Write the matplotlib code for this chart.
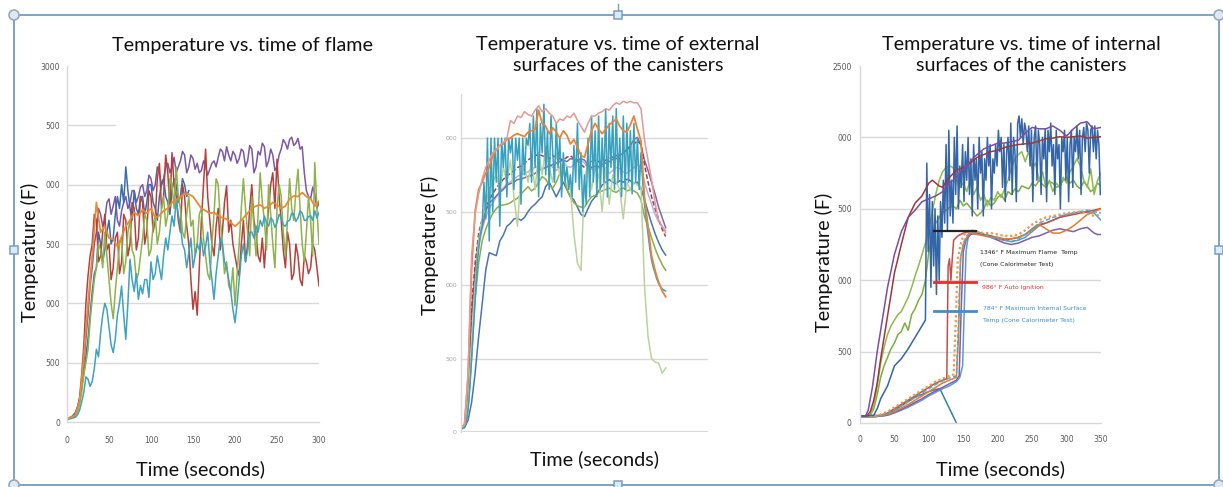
import numpy as np
import matplotlib
matplotlib.use("Agg")
import matplotlib.pyplot as plt
from matplotlib.patches import Rectangle, Circle

plt.rcParams['font.family'] = ['Lato', 'DejaVu Sans']

# ---------------- panel 1: flame temperature ----------------
t1 = list(np.arange(0, 300.1, 2.5))
flame_purple = [30, 35, 40, 50, 70, 110, 180, 330, 500, 700,
                900, 1150, 1300, 1500, 1600, 1800, 1750, 1650, 1700, 1850,
                1880, 1750, 1820, 1900, 1700, 1650, 1780, 1850, 1900, 1800,
                1850, 1950, 1950, 1850, 1900, 1980, 2000, 1900, 1950, 2080,
                2050, 1950, 2000, 2150, 2100, 2000, 2050, 2150, 2180, 2100,
                2150, 2230, 2100, 2150, 2200, 2280, 2250, 2100, 2150, 2250,
                2220, 2130, 2180, 2100, 2120, 2200, 2150, 2080, 2130, 2180,
                2200, 2150, 2230, 2300, 2280, 2200, 2320, 2250, 2200, 2280,
                2250, 2180, 2220, 2300, 2280, 2150, 2200, 2330, 2300, 2100,
                2150, 2280, 2250, 2350, 2320, 2150, 2200, 2300, 2250, 2120,
                2150, 2250, 2300, 2380, 2350, 2300, 2380, 2400, 2330, 2350,
                2390, 2300, 2320, 2100, 1950, 1900, 1880, 1980, 1920, 1800,
                1850]
t1_blue = list(np.arange(0, 145.1, 2.5))
flame_blue = [30, 35, 40, 60, 80, 130, 200, 300, 400, 550,
              700, 900, 1100, 1250, 1300, 1600, 1500, 1350, 1450, 1600,
              1700, 1500, 1550, 1750, 1900, 1800, 2000, 1850, 2150, 1950,
              1800, 1700, 1950, 1800, 1750, 1900, 1900, 1750, 1850, 2000,
              2000, 1850, 1800, 1700, 1900, 2000, 2050, 1900, 1850, 1750,
              1950, 2050, 2000, 1850, 1900, 2050, 2000, 1900, 1950]
flame_red = [30, 35, 40, 50, 60, 100, 200, 400, 640, 1000,
             1230, 1400, 1500, 1750, 1700, 1350, 1400, 1600, 1750, 1450,
             1500, 1200, 1300, 1550, 1600, 1250, 1350, 1750, 1700, 1400,
             1500, 1850, 1800, 1450, 1550, 1900, 1850, 1500, 1600, 1950,
             1900, 1600, 1700, 2050, 2180, 1800, 1900, 2250, 2100, 1800,
             2270, 2000, 1900, 1700, 1600, 2000, 1900, 1650, 1500, 1200,
             950, 1100, 900, 1300, 1700, 2000, 2300, 1900, 1700, 1500,
             1400, 1650, 1800, 1450, 1600, 1850, 1990, 1600, 1700, 1500,
             1400, 1300, 1230, 1500, 1700, 1350, 1500, 1800, 2000, 1700,
             1600, 1400, 1350, 1550, 1300, 1600, 1800, 2000, 2100, 1800,
             2214, 1900, 1700, 1450, 1300, 1600, 1500, 1200, 1250, 1500,
             1400, 1200, 1150, 1400, 1350, 1250, 1300, 1500, 1450, 1300,
             1146]
t1_orange = list(range(0, 301, 5))
flame_orange = [30, 40, 60, 180, 550, 1000, 1400, 1850, 1600, 1650, 1550, 1540, 1480, 1560, 1650, 1700,
                1765, 1740, 1790, 1760, 1800, 1720, 1740, 1780, 1800, 1850, 1870, 1900, 1920, 1920,
                1900, 1850, 1800, 1780, 1760, 1765, 1740, 1720, 1710, 1680, 1650, 1680, 1720, 1760,
                1800, 1820, 1830, 1800, 1820, 1850, 1830, 1800, 1820, 1880, 1905, 1900, 1933, 1900,
                1880, 1820, 1860]
flame_green = [25, 30, 35, 40, 50, 90, 150, 250, 400, 500,
               610, 850, 1030, 1200, 1300, 1500, 1450, 1300, 1600, 1400,
               1200, 1000, 870, 1100, 1300, 1500, 1550, 1250, 1350, 1600,
               1700, 1450, 1400, 1200, 1250, 1400, 1550, 1750, 1700, 1400,
               1450, 1650, 1750, 1500, 1600, 1800, 1900, 1650, 1750, 2050,
               2000, 1800, 2150, 1900, 1800, 1600, 1550, 1750, 1900, 1650,
               1700, 1400, 1500, 1750, 1800, 1550, 1400, 1250, 1200, 1500,
               1750, 2050, 2000, 1700, 1500, 1250, 1350, 1150, 1100, 1300,
               980, 1250, 1500, 1800, 2050, 1800, 1600, 1400, 1900, 1650,
               1400, 1750, 2100, 1850, 1700, 1450, 2000, 1750, 1500, 1300,
               1800, 2000, 1900, 1600, 1400, 1700, 2050, 1800, 1700, 1950,
               2130, 1800, 1500, 1350, 1600, 1900, 1700, 1400, 2186, 1800,
               1500]
flame_cyan = [20, 25, 30, 35, 40, 60, 100, 170, 250, 380,
              360, 300, 340, 450, 613, 550, 750, 900, 1000, 950,
              800, 650, 585, 700, 900, 1000, 1146, 900, 697, 1000,
              1371, 1200, 1100, 1250, 1034, 1150, 1080, 1200, 1200, 1050,
              1350, 1200, 1250, 1400, 1300, 1200, 1400, 1550, 1450, 1600,
              1736, 1650, 1877, 1750, 1650, 1500, 1450, 1300, 1427, 1550,
              1300, 1400, 1500, 1450, 1550, 1400, 1480, 1600, 1350, 1200,
              1034, 1250, 1400, 1550, 1500, 1350, 1300, 1200, 1100, 950,
              837, 1000, 1200, 1400, 1500, 1350, 1450, 1600, 1600, 1550,
              1652, 1600, 1700, 1650, 1736, 1680, 1650, 1720, 1700, 1640,
              1680, 1750, 1720, 1660, 1650, 1690, 1700, 1760, 1750, 1690,
              1720, 1780, 1760, 1700, 1700, 1730, 1740, 1700, 1780, 1720,
              1765]
p1_yticks = [0, 500, 1000, 1500, 2000, 2500, 3000]
p1_ylabels = ["0", "500", "000", "500", "000", "500", "3000"]
p1_xticks = [0, 50, 100, 150, 200, 250, 300]

# ---------------- panel 2: external surfaces ----------------
t2 = list(range(0, 291, 5))
ext_pink = [30, 50, 400, 1200, 1480, 1620, 1720, 1800, 1850, 1900, 1920, 1950, 1970, 2000, 2120, 2100,
            2150, 2140, 2180, 2160, 2150, 2190, 2220, 2180, 2200, 2170, 2150, 2100, 2130, 2120, 2150,
            2140, 2170, 2120, 2080, 2040, 2100, 2150, 2150, 2170, 2180, 2200, 2190, 2220, 2240, 2230,
            2250, 2240, 2250, 2240, 2240, 2200, 1990, 1850, 1718, 1560, 1440, 1400, 1357]
ext_orange = [30, 50, 380, 1100, 1500, 1650, 1700, 1760, 1800, 1880, 1920, 1950, 1960, 1990, 2000,
              2020, 2030, 2020, 2010, 2040, 2050, 2060, 2190, 2100, 2080, 2030, 2070, 2040, 2000,
              2050, 2020, 1960, 1990, 1940, 1880, 1870, 1960, 2050, 2100, 2060, 2030, 2060, 2090,
              2110, 2130, 2080, 2050, 2040, 2090, 2150, 2060, 1980, 1600, 1400, 1200, 1100, 1020,
              960, 920]
ext_purple = [30, 45, 300, 800, 1100, 1300, 1400, 1500, 1560, 1580, 1606, 1630, 1650, 1680, 1690, 1700,
              1718, 1720, 1730, 1740, 1745, 1760, 1780, 1790, 1800, 1810, 1820, 1830, 1840, 1850,
              1840, 1860, 1855, 1850, 1860, 1850, 1820, 1800, 1810, 1805, 1820, 1830, 1840, 1855,
              1860, 1880, 1900, 1920, 1950, 1990, 2005, 1950, 1850, 1780, 1700, 1620, 1530, 1460, 1390]
ext_maroon = [30, 45, 320, 850, 1150, 1350, 1450, 1520, 1580, 1620, 1660, 1690, 1720, 1740, 1760, 1780,
              1800, 1810, 1830, 1850, 1870, 1880, 1890, 1880, 1870, 1860, 1880, 1870, 1860, 1850,
              1870, 1880, 1860, 1850, 1820, 1800, 1830, 1840, 1850, 1840, 1830, 1850, 1860, 1870,
              1880, 1890, 1900, 1920, 1940, 1960, 1980, 1960, 1820, 1700, 1600, 1520, 1450, 1380, 1330]
ext_lavender = [30, 45, 280, 760, 1050, 1250, 1380, 1460, 1520, 1560, 1600, 1640, 1660, 1690, 1700,
                1720, 1740, 1750, 1760, 1770, 1790, 1800, 1810, 1790, 1800, 1820, 1800, 1780, 1800,
                1830, 1810, 1800, 1820, 1840, 1850, 1830, 1800, 1790, 1780, 1800, 1810, 1790, 1760,
                1780, 1800, 1790, 1770, 1760, 1780, 1800, 1820, 1800, 1700, 1620, 1550, 1480, 1430,
                1400, 1370]
ext_green = [25, 40, 150, 500, 900, 1150, 1300, 1380, 1440, 1487, 1520, 1540, 1545, 1550, 1560, 1578,
             1590, 1620, 1644, 1670, 1640, 1660, 1700, 1738, 1720, 1680, 1660, 1700, 1760, 1780,
             1650, 1600, 1560, 1540, 1530, 1530, 1570, 1600, 1610, 1630, 1640, 1650, 1660, 1640,
             1630, 1650, 1660, 1640, 1650, 1640, 1626, 1580, 1466, 1400, 1320, 1250, 1190, 1140, 1100]
ext_blue = [20, 30, 80, 200, 400, 650, 870, 1100, 1220, 1210, 1200, 1300, 1340, 1400, 1420, 1450,
            1455, 1440, 1460, 1500, 1530, 1550, 1578, 1600, 1670, 1700, 1650, 1600, 1650, 1700,
            1650, 1600, 1580, 1530, 1480, 1466, 1520, 1570, 1600, 1640, 1680, 1700, 1718, 1700,
            1690, 1710, 1700, 1720, 1710, 1690, 1700, 1660, 1580, 1500, 1420, 1350, 1290, 1240, 1204]
ext_pale = [25, 40, 200, 600, 1000, 1300, 1450, 1550, 1650, 1700, 1750, 1650, 1800, 1700, 1850, 1600,
            1400, 1750, 1800, 1700, 1850, 1650, 1900, 1750, 1950, 1800, 1700, 1900, 1750, 1850,
            1800, 1650, 1350, 1150, 1100, 1700, 1850, 1650, 1800, 1750, 1500, 1800, 1550, 1750,
            1700, 1650, 1450, 1700, 1650, 1700, 1680, 1670, 1000, 650, 500, 475, 470, 400, 435]
t2_cyan = list(np.arange(0, 290.1, 2.5))
ext_cyan = [20, 25, 30, 60, 150, 300, 500, 700, 900, 1100, 1250, 1350, 1400, 1700, 1450, 2000, 1300,
            2000, 1500, 2000, 1700, 2000, 1400, 2000, 1800, 2000, 1600, 2000, 1900, 2000, 1650, 2000,
            1850, 2000, 1550, 2000, 1750, 2000, 1950, 2100, 1700, 2150, 1800, 2200, 1600, 2100, 1900,
            2230, 1750, 2050, 1650, 2150, 1900, 1700, 2100, 1800, 2000, 1600, 1900, 1700, 1800, 1650,
            1750, 1600, 1950, 1700, 2100, 1650, 1900, 1500, 1750, 1550, 2000, 1600, 2150, 1700, 2050,
            1600, 2150, 1650, 2000, 1700, 2200, 1600, 2100, 1800, 2150, 1650, 2200, 1700, 2000, 1600,
            2150, 1650, 2100, 1700, 2050, 1620, 2100, 1700, 2000, 1650, 1900, 1700, 1550, 1450, 1350,
            1250, 1170, 1120, 1080, 1040, 1010, 990, 975, 965, 960]
p2_yticks = [0, 500, 1000, 1500, 2000]
p2_ylabels = ["0", "500", "000", "500", "000"]

# ---------------- panel 3: internal surfaces ----------------
t3_maroon = [0, 10, 15, 20, 25, 30, 40, 50, 60, 70, 80, 90, 100, 105, 110, 115, 120, 125, 130, 140, 150,
             160, 170, 180, 190, 200, 210, 220, 230, 240, 250, 260, 270, 280, 290, 300, 310, 320, 330,
             340, 350]
int_maroon = [50, 50, 80, 160, 280, 450, 750, 1050, 1250, 1440, 1540, 1590, 1680, 1700, 1680, 1660,
              1650, 1690, 1720, 1770, 1790, 1820, 1860, 1880, 1900, 1910, 1930, 1940, 1950, 1955,
              1960, 1975, 1990, 1995, 2005, 2000, 2005, 2010, 1995, 2000, 2005]
t3_purple = [0, 8, 12, 18, 25, 30, 40, 50, 60, 70, 80, 90, 100, 110, 120, 130, 140, 150, 160, 170, 180,
             190, 200, 210, 220, 230, 240, 250, 260, 270, 280, 290, 300, 310, 320, 330, 335, 340, 350]
int_purple = [50, 50, 90, 250, 500, 650, 950, 1180, 1340, 1440, 1490, 1550, 1570, 1590, 1620, 1680,
              1720, 1780, 1830, 1880, 1920, 1940, 1960, 1960, 1970, 1980, 2030, 2070, 2060, 2060,
              2080, 2050, 2010, 2060, 2100, 2110, 2080, 2060, 2070]
t3_blue = [0, 10, 20, 25, 30, 40, 50, 60, 70, 80, 90, 95] + list(range(97, 350, 2))
int_blue = [50, 50, 55, 100, 170, 260, 400, 450, 520, 600, 680, 720,
            1820, 1200, 1600, 950, 1550, 1100, 1500, 900, 1450, 1000, 1550, 1300, 1700, 1400, 1950,
            1350, 2050, 1450, 1700, 1400, 2000, 1600, 2080, 1500, 1800, 1650, 1950, 1550, 1900, 1700,
            2000, 1600, 1850, 1450, 1950, 1700, 1850, 1500, 2000, 1750, 1900, 1450, 1850, 1700, 2000,
            1800, 1950, 1500, 1850, 1750, 1950, 1800, 2050, 1900, 2000, 1650, 1950, 1550, 1900, 2000,
            1700, 2100, 1600, 2000, 1900, 1550, 2100, 2150, 2000, 2130, 1950, 2100, 2050, 1900, 2080,
            1800, 2050, 1550, 2000, 2080, 1700, 2050, 1950, 1600, 2000, 1850, 2060, 1550, 2050, 1900,
            2100, 1800, 1950, 1600, 2050, 1850, 1950, 1500, 2000, 1900, 2050, 1700, 2000, 1550, 1950,
            2050, 1650, 2000, 1900, 2080, 1850, 2050, 1600, 2000, 2070, 1900, 2100, 2050, 1750, 2050,
            2080, 1900, 2080, 1850, 2050, 1950, 1600]
t3_green = list(range(0, 351, 5))
int_green1 = [50, 50, 50, 60, 120, 260, 420, 530, 620, 680, 720, 760, 780, 830, 880, 950, 1030, 1100,
              1180, 1260, 1350, 1480, 1600, 1700, 1760, 1790, 1800, 1790, 1700, 1650, 1680, 1620,
              1700, 1600, 1650, 1560, 1600, 1520, 1580, 1560, 1620, 1580, 1640, 1700, 1790, 1850,
              1880, 1900, 1830, 1900, 1780, 1820, 1700, 1760, 1650, 1700, 1620, 1680, 1650, 1720,
              1680, 1760, 1800, 1850, 1800, 1700, 1650, 1780, 1600, 1700, 1750]
int_green2 = [50, 50, 50, 55, 100, 200, 320, 400, 460, 520, 560, 620, 640, 700, 650, 760, 800, 860,
              900, 1000, 1200, 1330, 1400, 1440, 1470, 1490, 1510, 1520, 1500, 1560, 1520, 1540,
              1510, 1480, 1450, 1470, 1500, 1560, 1520, 1540, 1580, 1600, 1560, 1620, 1600, 1640,
              1620, 1660, 1650, 1640, 1680, 1660, 1700, 1670, 1650, 1690, 1680, 1650, 1660, 1700,
              1720, 1680, 1700, 1660, 1640, 1690, 1660, 1620, 1640, 1680, 1660]
t3_red = [0, 20, 30, 40, 50, 60, 70, 80, 90, 100, 110, 120, 126, 127, 128, 130, 132, 134, 136, 142, 150,
          160, 170, 180, 190, 200, 210, 220, 230, 240, 250, 260, 270, 280, 290, 300, 320, 340, 350]
int_red = [50, 50, 55, 70, 100, 130, 160, 190, 220, 250, 280, 300, 310, 700, 1100, 1150, 1000, 1150,
           1280, 1310, 1330, 1340, 1340, 1320, 1310, 1290, 1280, 1290, 1300, 1320, 1360, 1390, 1400,
           1420, 1440, 1450, 1470, 1490, 1503]
t3_orange = [0, 20, 30, 40, 50, 60, 70, 80, 90, 100, 110, 120, 130, 140, 143, 146, 150, 155, 160, 170,
             180, 190, 200, 210, 220, 230, 240, 250, 260, 270, 280, 290, 300, 310, 320, 330, 340, 350]
int_orange = [45, 45, 50, 60, 80, 105, 130, 160, 190, 220, 250, 280, 300, 320, 600, 1150, 1250, 1300,
              1330, 1320, 1310, 1300, 1300, 1290, 1290, 1300, 1320, 1350, 1390, 1360, 1330, 1330,
              1350, 1380, 1420, 1460, 1480, 1500]
t3_orange_dot = [0, 20, 30, 40, 50, 60, 70, 80, 90, 100, 110, 120, 130, 136, 139, 142, 146, 150, 155,
                 160, 170, 180, 190, 200, 210, 220, 230, 240, 250, 260, 270, 280, 290, 300, 320, 340, 350]
int_orange_dot = [50, 50, 60, 80, 110, 140, 170, 200, 230, 260, 290, 310, 330, 340, 700, 1150, 1250,
                  1310, 1340, 1350, 1340, 1330, 1330, 1320, 1310, 1310, 1320, 1350, 1390, 1420, 1440,
                  1450, 1460, 1470, 1480, 1450, 1460]
t3_cyan = [0, 20, 30, 40, 50, 60, 70, 80, 90, 100, 110, 120, 130, 140, 143, 146, 150, 155, 160, 170,
           180, 190, 200, 210, 220, 230, 240, 250, 260, 270, 280, 290, 300, 310, 320, 330, 340, 350]
int_cyan = [45, 45, 50, 65, 90, 120, 150, 180, 210, 240, 270, 295, 315, 330, 700, 1150, 1260, 1310,
            1340, 1340, 1320, 1300, 1290, 1280, 1270, 1290, 1320, 1360, 1400, 1420, 1440, 1450, 1460,
            1470, 1480, 1490, 1480, 1470]
t3_ltblue = [0, 20, 30, 40, 50, 60, 70, 80, 90, 100, 110, 120, 130, 140, 145, 149, 152, 154, 157, 162,
             170, 180, 190, 200, 210, 220, 230, 240, 250, 260, 270, 280, 290, 300, 320, 340, 350]
int_ltblue = [45, 45, 48, 55, 70, 90, 110, 135, 160, 190, 215, 240, 260, 290, 320, 400, 900, 1200, 1300,
              1330, 1330, 1320, 1310, 1300, 1280, 1270, 1280, 1300, 1340, 1380, 1400, 1420, 1440,
              1460, 1480, 1470, 1420]
t3_lpurple = [0, 20, 30, 40, 50, 60, 70, 80, 90, 100, 110, 120, 130, 140, 144, 147, 150, 154, 160, 170,
              180, 190, 200, 210, 220, 230, 240, 250, 260, 270, 280, 290, 300, 310, 320, 330, 340, 345, 350]
int_lpurple = [45, 45, 48, 55, 75, 95, 120, 145, 170, 200, 225, 250, 275, 300, 330, 800, 1200, 1280,
               1320, 1330, 1320, 1300, 1280, 1260, 1250, 1260, 1280, 1300, 1310, 1330, 1350, 1360,
               1350, 1340, 1360, 1370, 1330, 1320, 1320]
t3_teal = [0, 20, 30, 40, 50, 60, 70, 80, 90, 100, 110, 116, 120, 125, 130, 135, 140]
int_teal = [45, 45, 50, 65, 90, 120, 150, 180, 200, 220, 235, 240, 200, 150, 100, 50, 0]

ref_t = [108, 169]
ref_flame = 1346
ref_ignition = 986
ref_surface = 784

p3_yticks = [0, 500, 1000, 1500, 2000, 2500]
p3_ylabels = ["0", "500", "000", "500", "000", "2500"]
p3_xticks = [0, 50, 100, 150, 200, 250, 300, 350]

W, H = 1223, 487
fig = plt.figure(figsize=(W / 100, H / 100), dpi=100)

# overlay in pixel units for the selection frame and the texts
bg = fig.add_axes([0, 0, 1, 1])
bg.set_xlim(0, W)
bg.set_ylim(H, 0)
bg.axis('off')
frame_c = '#5a87b9'
bg.add_patch(Rectangle((14, 15), 1205, 470, fill=False, edgecolor=frame_c, linewidth=1.1))
bg.plot([618, 618], [4, 11], color='#7f9cbd', lw=1)
for cx, cy in [(14, 15), (1219, 15), (14, 485), (1219, 485)]:
    bg.add_patch(Circle((cx, cy), 5, facecolor='#e1e9f0', edgecolor='#96aabd', lw=1.2, zorder=3))
for cx, cy in [(618, 15), (14, 250), (1219, 250), (618, 485)]:
    bg.add_patch(Rectangle((cx - 4, cy - 4), 8, 8, facecolor='#d7eef8', edgecolor='#7f9cbd',
                           lw=1.1, zorder=3))

title_kw = dict(fontsize=14.2, color='#111111', ha='center', va='center')
bg.text(243, 46, 'Temperature vs. time of flame', **title_kw)
bg.text(618, 55, 'Temperature vs. time of external\nsurfaces of the canisters', linespacing=1.3, **title_kw)
bg.text(1021, 55, 'Temperature vs. time of internal\nsurfaces of the canisters', linespacing=1.3, **title_kw)
bg.text(201, 469, 'Time (seconds)', **title_kw)
bg.text(595, 459, 'Time (seconds)', **title_kw)
bg.text(1001, 469, 'Time (seconds)', **title_kw)
bg.text(30, 252, 'Temperature (F)', rotation=90, **title_kw)
bg.text(430, 245, 'Temperature (F)', rotation=90, **title_kw)
bg.text(824, 262, 'Temperature (F)', rotation=90, **title_kw)


def px_axes(x0, x1, y_top, y_bot):
    return fig.add_axes([x0 / W, 1 - y_bot / H, (x1 - x0) / W, (y_bot - y_top) / H])


def style(ax, grid_vals, color='#595959', size=5.5):
    for s in ['top', 'right']:
        ax.spines[s].set_visible(False)
    for s in ['left', 'bottom']:
        ax.spines[s].set_color('#d9d9d9')
        ax.spines[s].set_linewidth(1)
    for g in grid_vals:
        ax.axhline(g, color='#d9d9d9', lw=1, zorder=0)
    ax.tick_params(length=0, labelsize=size, labelcolor=color)
    for lab in ax.get_xticklabels() + ax.get_yticklabels():
        lab.set_family(['Liberation Sans Narrow', 'DejaVu Sans'])
    ax.patch.set_alpha(0)


lw = 1.1

# panel 1
ax1 = px_axes(67, 319, 66, 422)
ax1.plot(t1, flame_purple, color='#7c58a3', lw=lw)
ax1.plot(t1_blue, flame_blue, color='#3c6dab', lw=lw)
ax1.plot(t1, flame_red, color='#b5413d', lw=lw)
ax1.plot(t1, flame_green, color='#8db34a', lw=lw)
ax1.plot(t1, flame_cyan, color='#3fa2be', lw=lw)
ax1.plot(t1_orange, flame_orange, color='#ea8a32', lw=lw + 0.2)
ax1.set_xlim(0, 300)
ax1.set_ylim(0, 3000)
ax1.set_xticks(p1_xticks)
ax1.set_yticks(p1_yticks)
ax1.set_yticklabels(p1_ylabels)
ax1.tick_params(axis='x', pad=10)
ax1.tick_params(axis='y', pad=5)
ax1.axhline(2500, xmin=0, xmax=0.19, color='#d9d9d9', lw=1, zorder=0)
style(ax1, [500, 1000, 1500, 2000])

# panel 2
ax2 = px_axes(461, 708, 94, 432)
ax2.plot(t2, ext_blue, color='#4a74b5', lw=lw)
ax2.plot(t2, ext_green, color='#86b04a', lw=lw)
ax2.plot(t2, ext_lavender, color='#a99cd0', lw=lw, alpha=0.8)
ax2.plot(t2, ext_purple, color='#8466ad', lw=lw)
ax2.plot(t2, ext_maroon, color='#a23b49', lw=lw, ls=(0, (3, 1.5)))
ax2.plot(t2, ext_pale, color='#b9d39a', lw=lw)
ax2.plot(t2_cyan, ext_cyan, color='#37a0bd', lw=lw)
ax2.plot(t2, ext_orange, color='#e8843a', lw=lw + 0.2)
ax2.plot(t2, ext_pink, color='#e09a97', lw=lw)
ax2.set_xlim(0, 350)
ax2.set_ylim(0, 2300)
ax2.set_xticks([])
ax2.set_yticks(p2_yticks)
ax2.set_yticklabels(p2_ylabels)
ax2.tick_params(axis='y', pad=3)
style(ax2, [500, 1000, 1500, 2000], color='#a6a6a6', size=4.5)
ax2.spines['bottom'].set_visible(False)
ax2.axhline(0, color='#d9d9d9', lw=1.5, zorder=0)

# panel 3
ax3 = px_axes(860, 1101, 66, 423)
ax3.plot(t3_teal, int_teal, color='#31859c', lw=lw)
ax3.plot(t3_ltblue, int_ltblue, color='#5b9bd5', lw=lw)
ax3.plot(t3_lpurple, int_lpurple, color='#7e5fa8', lw=lw)
ax3.plot(t3_red, int_red, color='#c0504d', lw=lw)
ax3.plot(t3_orange, int_orange, color='#e8792a', lw=lw)
ax3.plot(t3_cyan, int_cyan, color='#4bacc6', lw=lw, ls=(0, (3, 1.5)))
ax3.plot(t3_orange_dot, int_orange_dot, color='#f39440', lw=lw + 0.5, ls=(0, (1, 1.2)))
ax3.plot(t3_green, int_green2, color='#7dae3c', lw=lw)
ax3.plot(t3_green, int_green1, color='#8dbb4c', lw=lw)
ax3.plot(t3_blue, int_blue, color='#3465a6', lw=lw)
ax3.plot(t3_maroon, int_maroon, color='#9e3838', lw=lw)
ax3.plot(t3_purple, int_purple, color='#7a4ea1', lw=lw)
ax3.plot(ref_t, [ref_flame] * 2, color='#222222', lw=1.6)
ax3.plot(ref_t, [ref_ignition] * 2, color='#ee2b2b', lw=2)
ax3.plot(ref_t, [ref_surface] * 2, color='#3d8fd0', lw=2)
note_kw = dict(fontsize=4.4, family=['Liberation Sans Narrow', 'DejaVu Sans'], va='center')
ax3.text(174, 1196, '1346° F Maximum Flame  Temp', color='#222222', **note_kw)
ax3.text(174, 1112, '(Cone Calorimeter Test)', color='#222222', **note_kw)
ax3.text(177, 951, '986° F Auto Ignition', color='#ee2b2b', **note_kw)
ax3.text(178, 800, '784° F Maximum Internal Surface', color='#3d8fd0', **note_kw)
ax3.text(178, 718, 'Temp (Cone Calorimeter Test)', color='#3d8fd0', **note_kw)
ax3.set_xlim(0, 350)
ax3.set_ylim(0, 2500)
ax3.set_xticks(p3_xticks)
ax3.set_yticks(p3_yticks)
ax3.set_yticklabels(p3_ylabels)
ax3.tick_params(axis='x', pad=9)
ax3.tick_params(axis='y', pad=6)
style(ax3, [500, 1000, 1500, 2000])

fig.savefig('out.png', dpi=100)
